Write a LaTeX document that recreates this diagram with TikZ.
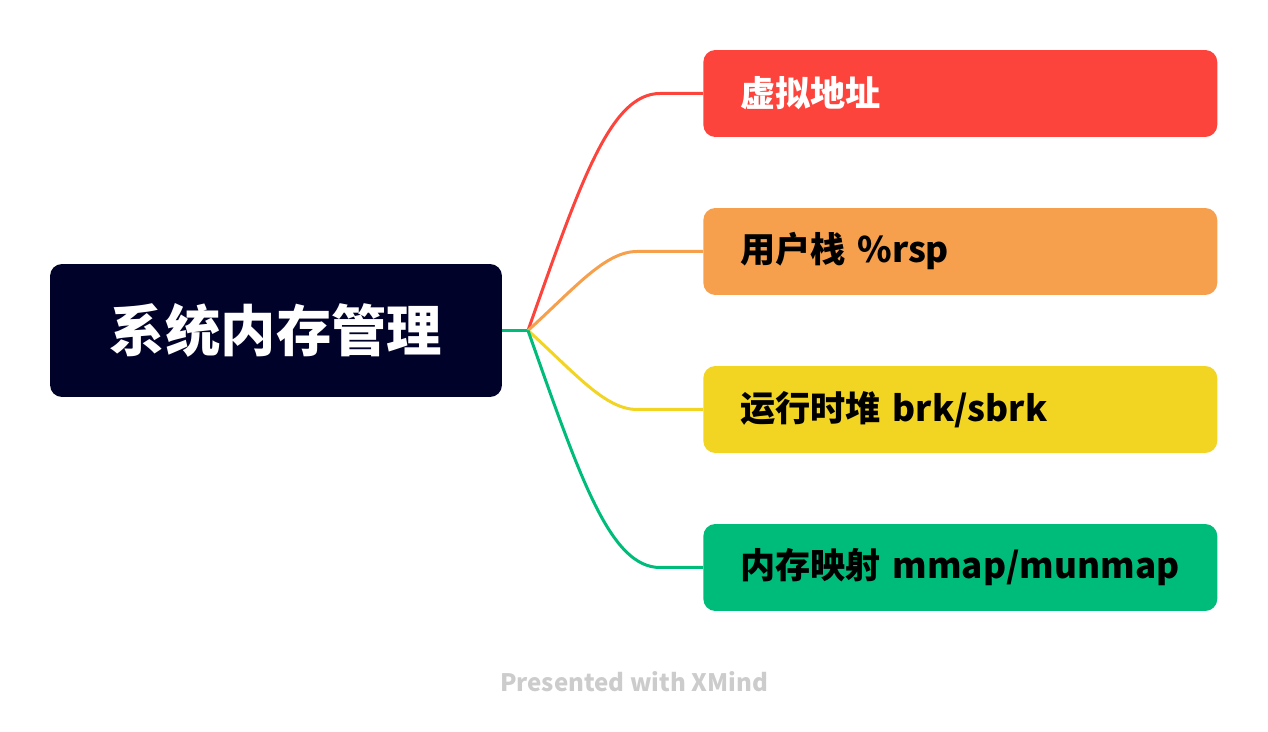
\documentclass[tikz,border=0pt]{standalone}
\usepackage{fontspec}
\setmainfont{Noto Sans CJK SC}
\usetikzlibrary{calc}
\definecolor{xroot}{HTML}{000229}
\definecolor{xred}{HTML}{FC443C}
\definecolor{xorange}{HTML}{F6A04D}
\definecolor{xyellow}{HTML}{F2D422}
\definecolor{xgreen}{HTML}{00BC7B}
\definecolor{xgray}{HTML}{CCCCCC}
\begin{document}
\begin{tikzpicture}[x=0.02cm,y=-0.02cm,
	rootbox/.style={rectangle, rounded corners=0.24cm, fill=xroot, text=white,
		minimum width=9.04cm, minimum height=2.66cm, font=\fontsize{31.5}{36}\selectfont\bfseries},
	topic/.style={rectangle, rounded corners=0.24cm, anchor=west, inner xsep=0.74cm,
		text width=8.8cm, align=left, minimum height=1.74cm, font=\fontsize{20}{24}\selectfont\bfseries},
	link/.style={line width=0.06cm}]
	\useasboundingbox (0,0) rectangle (1268,732);
	\node[rootbox] (root) at (276,330.5) {系统内存管理};
	\node[topic, fill=xred, text=white] (vaddr) at (703,93.5) {虚拟地址};
	\node[topic, fill=xorange] (ustack) at (703,251.5) {用户栈 \%rsp};
	\node[topic, fill=xyellow] (heap) at (703,409.5) {运行时堆 brk/sbrk};
	\node[topic, fill=xgreen] (mmap) at (703,567.5) {内存映射 mmap/munmap};
	\coordinate (junc) at (528,330.5);
	\draw[link, xgreen] (root.east) -- (junc);
	% curved links to the topics
	\draw[link, xred] (junc) .. controls +(52,-147) and +(-50,0) .. ($(vaddr.west)+(-43,0)$) -- (vaddr.west);
	\draw[link, xorange] (junc) .. controls +(47,-42.5) and +(-32,0) .. ($(ustack.west)+(-66,0)$) -- (ustack.west);
	\draw[link, xyellow] (junc) .. controls +(47,42.5) and +(-32,0) .. ($(heap.west)+(-66,0)$) -- (heap.west);
	\draw[link, xgreen] (junc) .. controls +(52,147) and +(-50,0) .. ($(mmap.west)+(-43,0)$) -- (mmap.west);
	\node[text=xgray, font=\fontsize{13.7}{16}\selectfont\bfseries] (credit) at (634,682) {Presented with XMind};
\end{tikzpicture}
\end{document}
